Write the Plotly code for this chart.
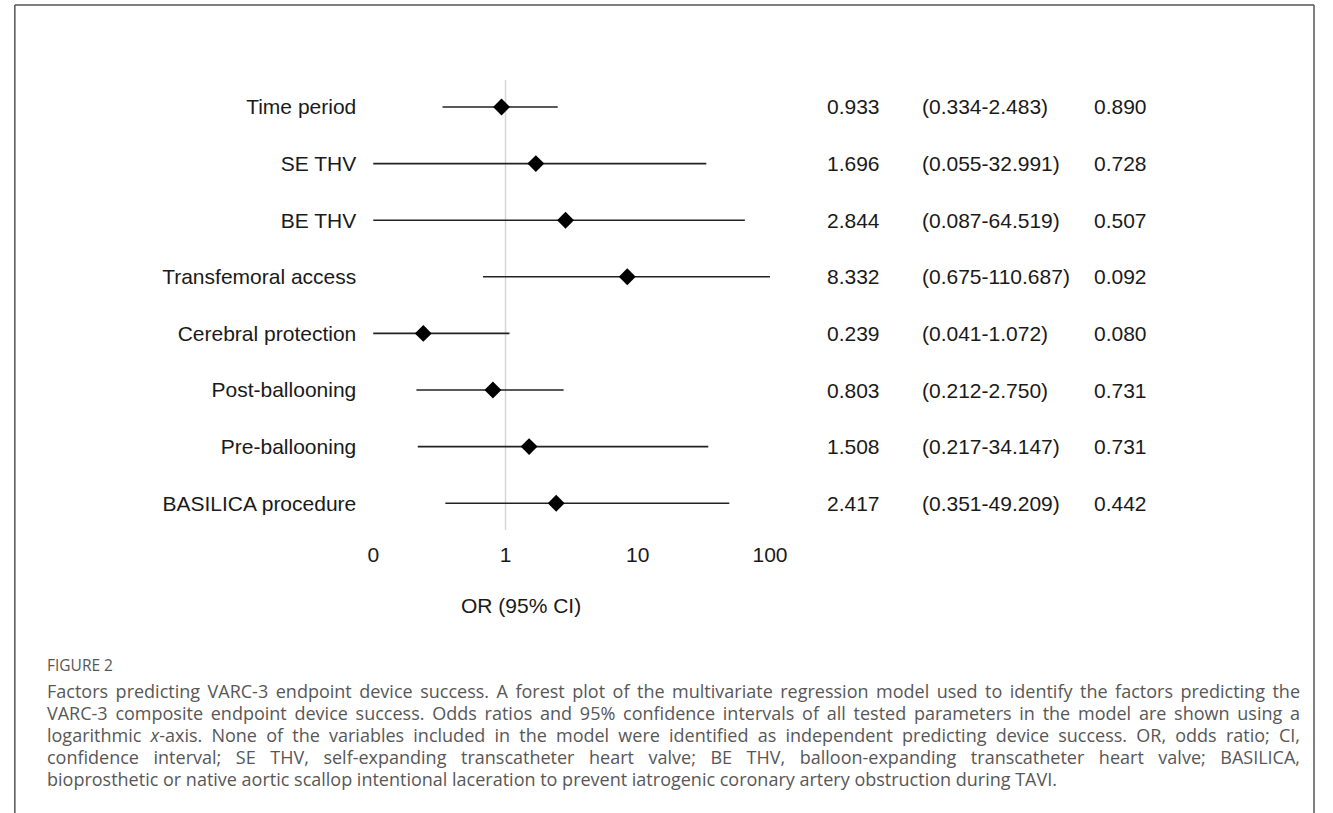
import plotly.graph_objects as go

# ---------------- data ----------------
factors = ["Time period", "SE THV", "BE THV", "Transfemoral access",
           "Cerebral protection", "Post-ballooning", "Pre-ballooning",
           "BASILICA procedure"]
odds_ratio = [0.933, 1.696, 2.844, 8.332, 0.239, 0.803, 1.508, 2.417]
ci_lower = [0.334, 0.055, 0.087, 0.675, 0.041, 0.212, 0.217, 0.351]
ci_upper = [2.483, 32.991, 64.519, 110.687, 1.072, 2.750, 34.147, 49.209]
p_values = ["0.890", "0.728", "0.507", "0.092", "0.080", "0.731", "0.731", "0.442"]
x_tick_vals = [0.1, 1, 10, 100]
x_tick_text = ["0", "1", "10", "100"]
table_headers = ["OR", "95% CI", "p-value"]

caption_title = "FIGURE 2"
caption_lines = [
    "Factors predicting VARC-3 endpoint device success. A forest plot of the multivariate regression model used to identify the factors predicting the",
    "VARC-3 composite endpoint device success. Odds ratios and 95% confidence intervals of all tested parameters in the model are shown using a",
    "logarithmic <i>x</i>-axis. None of the variables included in the model were identified as independent predicting device success. OR, odds ratio; CI,",
    "confidence interval; SE THV, self-expanding transcatheter heart valve; BE THV, balloon-expanding transcatheter heart valve; BASILICA,",
    "bioprosthetic or native aortic scallop intentional laceration to prevent iatrogenic coronary artery obstruction during TAVI.",
]

# ---------------- layout geometry ----------------
W, H = 1333, 813
ROW0, ROWSTEP = 107.0, 56.6          # pixel y of first row, spacing
PLOT_TOP, PLOT_BOT = 75.0, 540.0     # pixel extent of the plot area
X_LEFT, X_RIGHT = 374.0, 778.0       # pixel extent of x axis (0.1 .. 100)
CAP_LEFT, CAP_RIGHT = 42.0, 1300.0

def px_to_row(py):
    return (py - ROW0) / ROWSTEP

y_idx = list(range(len(factors)))

FONT = "Liberation Sans, Arial, sans-serif"
TXT = "#1a1a1a"

fig = go.Figure()

# CI whiskers
lx, ly = [], []
for i, (lo, hi) in enumerate(zip(ci_lower, ci_upper)):
    lx += [lo, hi, None]
    ly += [i, i, None]
fig.add_trace(go.Scatter(x=lx, y=ly, mode="lines",
                         line=dict(color="#222222", width=1.6),
                         hoverinfo="skip", showlegend=False))
# point estimates
fig.add_trace(go.Scatter(x=odds_ratio, y=y_idx, mode="markers",
                         marker=dict(symbol="diamond", size=13, color="black"),
                         showlegend=False))

# reference line at OR = 1
fig.add_shape(type="line", xref="x", yref="y", x0=1, x1=1,
              y0=px_to_row(80), y1=px_to_row(530),
              line=dict(color="#d6d6d6", width=1.5), layer="below")

# frame lines
fx0, fx1, fy0 = 9 / W, 1332 / W, 1 - 5 / H
for x0, y0, x1, y1 in [(fx0, fy0, fx1, fy0), (fx0, fy0, fx0, 0), (fx1, fy0, fx1, 0)]:
    fig.add_shape(type="line", xref="paper", yref="paper", x0=x0, y0=y0, x1=x1, y1=y1,
                  line=dict(color="#555555", width=1.5))

annotations = []

def add_ann(**kw):
    annotations.append(kw)
    return len(annotations) - 1

# table
col_x = [836, 933, 1108]
head_row = px_to_row(50)
for cx, h in zip(col_x, table_headers):
    add_ann(x=(cx - 2) / W, xref="paper", y=head_row, yref="y", text="<b>" + h + "</b>",
            showarrow=False, xanchor="left", yanchor="middle", align="left",
            font=dict(family=FONT, size=21, color=TXT))
for i in y_idx:
    vals = [f"{odds_ratio[i]:.3f}", f"({ci_lower[i]:.3f}-{ci_upper[i]:.3f})", p_values[i]]
    for cx, v in zip(col_x, vals):
        add_ann(x=(cx - 2) / W, xref="paper", y=i, yref="y", text=v,
                showarrow=False, xanchor="left", yanchor="middle", align="left",
                font=dict(family=FONT, size=21, color=TXT))

# x-axis title
add_ann(x=524 / W, xref="paper", y=1 - 605 / H, yref="paper", text="OR (95% CI)",
        showarrow=False, xanchor="center", yanchor="middle",
        font=dict(family=FONT, size=21, color=TXT))

# caption
CAP_FONT = "Open Sans, sans-serif"
CAP_COL = "#575757"
add_ann(x=(CAP_LEFT - 2) / W, xref="paper", y=1 - 665 / H, yref="paper", text=caption_title,
        showarrow=False, xanchor="left", yanchor="middle", align="left",
        font=dict(family=CAP_FONT, size=15.5, color=CAP_COL))
justify = []
for k, line in enumerate(caption_lines):
    idx = add_ann(x=(CAP_LEFT - 2) / W, xref="paper", y=1 - (691 + 22 * k) / H, yref="paper",
                  text=line, showarrow=False, xanchor="left", yanchor="middle", align="left",
                  font=dict(family=CAP_FONT, size=18, color=CAP_COL))
    if k < len(caption_lines) - 1:
        justify.append(idx)

for a in annotations:
    fig.add_annotation(**a)

fig.update_layout(
    width=W, height=H, autosize=False,
    margin=dict(l=0, r=0, t=0, b=0),
    paper_bgcolor="white", plot_bgcolor="white",
    showlegend=False,
    xaxis=dict(type="log", range=[-1, 2], domain=[X_LEFT / W, X_RIGHT / W],
               tickvals=x_tick_vals, ticktext=x_tick_text,
               showgrid=False, zeroline=False, showline=False, ticks="",
               tickfont=dict(family=FONT, size=21, color=TXT)),
    yaxis=dict(range=[px_to_row(PLOT_BOT), px_to_row(PLOT_TOP)],
               domain=[1 - PLOT_BOT / H, 1 - PLOT_TOP / H],
               tickvals=y_idx, ticktext=factors,
               showgrid=False, zeroline=False, showline=False, ticks="",
               ticklabelstandoff=16,
               tickfont=dict(family=FONT, size=21, color=TXT)),
)

js_list = ",".join(f'"{k}"' for k in justify)
post = """
document.body.style.margin='0px';
var gd = document.getElementById('{plot_id}');
var targets = [%s];
var rightEdge = %f;
gd.querySelectorAll('g.annotation').forEach(function(g){
  var idx = g.getAttribute('data-index');
  if (targets.indexOf(idx) >= 0) {
    var t = g.querySelector('text.annotation-text');
    var gr = gd.getBoundingClientRect();
    var r = t.getBoundingClientRect();
    var w = r.width;
    var target = rightEdge - (r.left - gr.left);
    var n = (t.textContent.match(/ /g) || []).length;
    if (n > 0 && target > w) { t.style.wordSpacing = ((target - w) / n) + 'px'; }
  }
});
""" % (js_list, CAP_RIGHT)

fig.write_html("out.html", config={"displayModeBar": False}, post_script=post)
